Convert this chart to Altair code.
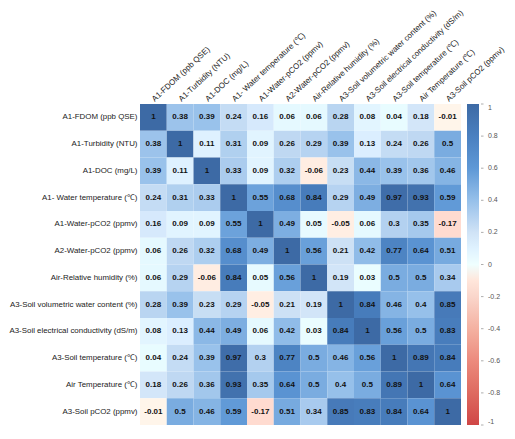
import altair as alt
import pandas as pd

variables = [
    "A1-FDOM (ppb QSE)",
    "A1-Turbidity (NTU)",
    "A1-DOC (mg/L)",
    "A1- Water temperature (℃)",
    "A1-Water-pCO2 (ppmv)",
    "A2-Water-pCO2 (ppmv)",
    "Air-Relative humidity (%)",
    "A3-Soil volumetric water content (%)",
    "A3-Soil electrical conductivity (dS/m)",
    "A3-Soil temperature (℃)",
    "Air Temperature (℃)",
    "A3-Soil pCO2 (ppmv)",
]

r_fdom = [1, 0.38, 0.39, 0.24, 0.16, 0.06, 0.06, 0.28, 0.08, 0.04, 0.18, -0.01]
r_turb = [0.38, 1, 0.11, 0.31, 0.09, 0.26, 0.29, 0.39, 0.13, 0.24, 0.26, 0.5]
r_doc = [0.39, 0.11, 1, 0.33, 0.09, 0.32, -0.06, 0.23, 0.44, 0.39, 0.36, 0.46]
r_wtemp = [0.24, 0.31, 0.33, 1, 0.55, 0.68, 0.84, 0.29, 0.49, 0.97, 0.93, 0.59]
r_a1pco2 = [0.16, 0.09, 0.09, 0.55, 1, 0.49, 0.05, -0.05, 0.06, 0.3, 0.35, -0.17]
r_a2pco2 = [0.06, 0.26, 0.32, 0.68, 0.49, 1, 0.56, 0.21, 0.42, 0.77, 0.64, 0.51]
r_rh = [0.06, 0.29, -0.06, 0.84, 0.05, 0.56, 1, 0.19, 0.03, 0.5, 0.5, 0.34]
r_vwc = [0.28, 0.39, 0.23, 0.29, -0.05, 0.21, 0.19, 1, 0.84, 0.46, 0.4, 0.85]
r_ec = [0.08, 0.13, 0.44, 0.49, 0.06, 0.42, 0.03, 0.84, 1, 0.56, 0.5, 0.83]
r_stemp = [0.04, 0.24, 0.39, 0.97, 0.3, 0.77, 0.5, 0.46, 0.56, 1, 0.89, 0.84]
r_atemp = [0.18, 0.26, 0.36, 0.93, 0.35, 0.64, 0.5, 0.4, 0.5, 0.89, 1, 0.64]
r_spco2 = [-0.01, 0.5, 0.46, 0.59, -0.17, 0.51, 0.34, 0.85, 0.83, 0.84, 0.64, 1]

matrix = [r_fdom, r_turb, r_doc, r_wtemp, r_a1pco2, r_a2pco2, r_rh, r_vwc,
          r_ec, r_stemp, r_atemp, r_spco2]

legend_ticks = [1, 0.8, 0.6, 0.4, 0.2, 0, -0.2, -0.4, -0.6, -0.8, -1]

rows = []
for i, rname in enumerate(variables):
    for j, cname in enumerate(variables):
        v = matrix[i][j]
        rows.append({"row": rname, "col": cname, "r": v, "label": str(v)})
df = pd.DataFrame(rows)
ticks_df = pd.DataFrame({"t": legend_ticks})

FONT = "Liberation Sans"

color_scale = alt.Scale(
    domain=[-1, -0.6, -0.2, 0, 0.2, 0.4, 0.6, 0.8, 1],
    range=["#cf4646", "#ec8a7d", "#fad6cb", "#ffffff", "#d0e3f6",
           "#96c0ea", "#5e98d6", "#4a80c0", "#3d6aa5"],
)

base = alt.Chart(df).encode(
    x=alt.X("col:N", sort=variables, title=None,
            axis=alt.Axis(orient="top", labelAngle=-43, labelAlign="left",
                          labelBaseline="middle", ticks=False, domain=False,
                          labelPadding=4, labelFontSize=8, labelFont=FONT,
                          labelColor="#222", labelLimit=300)),
    y=alt.Y("row:N", sort=variables, title=None,
            axis=alt.Axis(ticks=False, domain=False, labelPadding=3,
                          labelFontSize=7.9, labelFont=FONT,
                          labelColor="#222", labelLimit=300)),
)

heat = base.mark_rect().encode(
    color=alt.Color("r:Q", scale=color_scale,
                    legend=alt.Legend(orient="none", legendX=327, legendY=0,
                                      gradientLength=321, gradientThickness=12,
                                      gradientStrokeWidth=0, title=None,
                                      values=legend_ticks, labelFontSize=7,
                                      labelFont=FONT, labelColor="#555",
                                      labelBaseline="middle",
                                      labelExpr="'' + datum.value",
                                      labelOffset=9, direction="vertical"))
)

text = base.mark_text(fontSize=8, fontWeight="bold", font=FONT, color="#111").encode(
    text=alt.Text("label:N")
)

tick_marks = alt.Chart(ticks_df).mark_rule(color="#999", strokeWidth=0.8).encode(
    y=alt.Y("t:Q", scale=alt.Scale(domain=[-1, 1]), axis=None),
    x=alt.value(341),
    x2=alt.value(343.5),
)

chart = alt.layer(heat + text, tick_marks).resolve_scale(y="independent").properties(
    width=321, height=321,
    autosize=alt.AutoSizeParams(type="none"),
    padding={"left": 132, "top": 96, "right": 46, "bottom": 6},
).configure_view(stroke=None).configure_scale(bandPaddingInner=0)

chart.save("out.html", embed_options={"renderer": "svg", "actions": False})
